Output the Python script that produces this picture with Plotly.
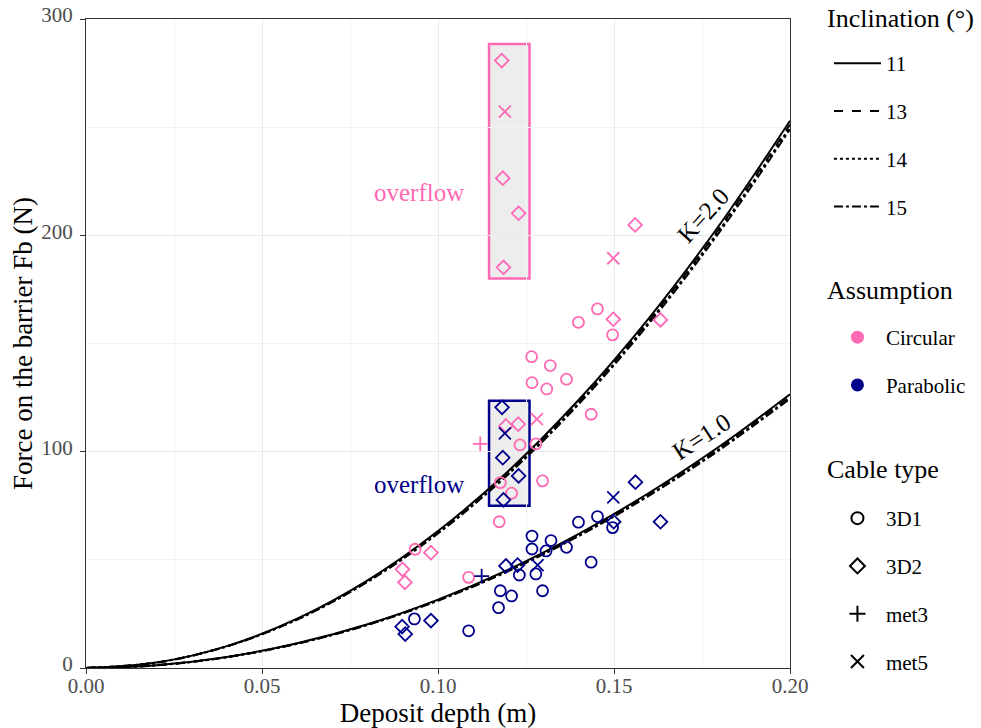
import plotly.graph_objects as go

# ---- theoretical force curves F(h) for K = 2.0 and K = 1.0 (one per inclination) ----
depth_grid = [0.00, 0.02, 0.04, 0.06, 0.08, 0.10, 0.12, 0.14, 0.16, 0.18, 0.20]
inclinations = ["11", "13", "14", "15"]
dash_styles = ["solid", "dash", "dot", "dashdot"]

k2_11 = [0, 2.5, 10.1, 22.8, 40.5, 63.3, 91.1, 124.0, 161.9, 204.9, 253.0]
k2_13 = [0, 2.5, 10.0, 22.6, 40.2, 62.8, 90.4, 123.1, 160.7, 203.4, 251.2]
k2_14 = [0, 2.5, 10.0, 22.5, 40.0, 62.5, 90.0, 122.5, 160.1, 202.6, 250.1]
k2_15 = [0, 2.5, 10.0, 22.4, 39.8, 62.2, 89.6, 122.0, 159.3, 201.6, 249.0]

k1_11 = [0, 1.3, 5.1, 11.4, 20.2, 31.6, 45.5, 62.0, 81.0, 102.5, 126.5]
k1_13 = [0, 1.3, 5.0, 11.3, 20.1, 31.4, 45.2, 61.5, 80.4, 101.7, 125.6]
k1_14 = [0, 1.3, 5.0, 11.3, 20.0, 31.3, 45.0, 61.3, 80.0, 101.3, 125.0]
k1_15 = [0, 1.2, 5.0, 11.2, 19.9, 31.1, 44.8, 61.0, 79.7, 100.8, 124.5]

k2_curves = [k2_11, k2_13, k2_14, k2_15]
k1_curves = [k1_11, k1_13, k1_14, k1_15]

# ---- measured barrier forces: Circular assumption ----
circ_3d1_x = [0.1399, 0.1453, 0.1496, 0.1266, 0.1319, 0.1267, 0.1309, 0.1365, 0.1435,
              0.1233, 0.1278, 0.1177, 0.1209, 0.1297, 0.1174, 0.0935, 0.1087]
circ_3d1_y = [159.8, 166.0, 154.0, 143.9, 139.8, 131.9, 129.0, 133.5, 117.3,
              103.1, 103.6, 85.7, 80.8, 86.5, 67.6, 54.9, 41.9]
circ_3d2_x = [0.1181, 0.1184, 0.1229, 0.1186, 0.1560, 0.1498, 0.1632, 0.1193, 0.1228,
              0.0980, 0.0899, 0.0906]
circ_3d2_y = [280.8, 226.4, 210.2, 185.2, 204.8, 161.2, 160.9, 111.9, 112.7,
              53.3, 45.6, 39.6]
circ_met3_x = [0.1120]
circ_met3_y = [103.6]
circ_met5_x = [0.1190, 0.1498, 0.1281]
circ_met5_y = [257.2, 189.4, 115.0]

# ---- measured barrier forces: Parabolic assumption ----
para_3d1_x = [0.1399, 0.1453, 0.1496, 0.1267, 0.1321, 0.1267, 0.1307, 0.1365, 0.1435,
              0.1231, 0.1278, 0.1177, 0.1209, 0.1297, 0.1172, 0.0933, 0.1087]
para_3d1_y = [67.4, 70.0, 64.9, 61.0, 58.9, 55.0, 54.1, 55.8, 48.9,
              43.0, 43.5, 35.7, 33.3, 35.7, 27.9, 22.7, 17.2]
para_3d2_x = [0.1182, 0.1184, 0.1229, 0.1186, 0.1561, 0.1499, 0.1632, 0.1193, 0.1226,
              0.0980, 0.0898, 0.0907]
para_3d2_y = [120.5, 97.2, 88.8, 77.7, 85.9, 67.6, 67.6, 47.2, 47.6,
              21.9, 19.1, 15.7]
para_met3_x = [0.1124]
para_met3_y = [42.5]
para_met5_x = [0.1190, 0.1498, 0.1283]
para_met5_y = [108.5, 78.9, 47.6]

# ---- overflow boxes (depth range, force range) ----
overflow_circ = [0.1145, 0.1260, 180.0, 288.5]
overflow_para = [0.1145, 0.1260, 75.0, 123.5]

assumptions = ["Circular", "Parabolic"]
assumption_colors = ["#FF69B4", "#00008B"]
cable_types = ["3D1", "3D2", "met3", "met5"]
cable_symbols = ["circle-open", "diamond-open", "cross-thin-open", "x-thin-open"]
cable_sizes = [11, 10.5, 10.5, 12]

FONT = "Liberation Serif, Times New Roman, serif"
INK = "#000000"
TICK_GREY = "#4D4D4D"
AXIS_GREY = "#333333"

fig = go.Figure()

# theory curves (K=2.0 carries the inclination legend entries)
for name, dash, c2, c1 in zip(inclinations, dash_styles, k2_curves, k1_curves):
    fig.add_trace(go.Scatter(
        x=depth_grid, y=c2, mode="lines", name=name,
        line=dict(color=INK, width=2, dash=dash, shape="spline"),
        legend="legend", legendgroup="inc" + name, hoverinfo="skip"))
    fig.add_trace(go.Scatter(
        x=depth_grid, y=c1, mode="lines", name=name, showlegend=False,
        line=dict(color=INK, width=2, dash=dash, shape="spline"),
        legendgroup="inc" + name, hoverinfo="skip"))

# measured points
series = [
    (0, 0, circ_3d1_x, circ_3d1_y), (0, 1, circ_3d2_x, circ_3d2_y),
    (0, 2, circ_met3_x, circ_met3_y), (0, 3, circ_met5_x, circ_met5_y),
    (1, 0, para_3d1_x, para_3d1_y), (1, 1, para_3d2_x, para_3d2_y),
    (1, 2, para_met3_x, para_met3_y), (1, 3, para_met5_x, para_met5_y),
]
for ai, ci, xs, ys in series:
    fig.add_trace(go.Scatter(
        x=xs, y=ys, mode="markers", showlegend=False,
        name=f"{assumptions[ai]} – {cable_types[ci]}",
        marker=dict(symbol=cable_symbols[ci], size=cable_sizes[ci],
                    color=assumption_colors[ai],
                    line=dict(width=1.8, color=assumption_colors[ai]))))

# legend-only entries: assumption colours
for name, col in zip(assumptions, assumption_colors):
    fig.add_trace(go.Scatter(
        x=[None], y=[None], mode="markers", name=name,
        marker=dict(symbol="circle", size=13, color=col),
        legend="legend2", legendgroup="as" + name))

# legend-only entries: cable symbols
for name, sym, sz in zip(cable_types, cable_symbols, cable_sizes):
    fig.add_trace(go.Scatter(
        x=[None], y=[None], mode="markers", name=name,
        marker=dict(symbol=sym, size=sz + 1, color=INK, line=dict(width=2, color=INK)),
        legend="legend3", legendgroup="cb" + name))

# overflow boxes
for box, col in [(overflow_circ, assumption_colors[0]), (overflow_para, assumption_colors[1])]:
    fig.add_shape(type="rect", xref="x", yref="y",
                  x0=box[0], x1=box[1], y0=box[2], y1=box[3],
                  line=dict(color=col, width=2.5),
                  fillcolor="rgba(0,0,0,0.07)", layer="below")

# text labels inside the panel
fig.add_annotation(x=0.0946, y=219.6, text="overflow", showarrow=False,
                   font=dict(family=FONT, size=25, color=assumption_colors[0]))
fig.add_annotation(x=0.0946, y=84.6, text="overflow", showarrow=False,
                   font=dict(family=FONT, size=25, color=assumption_colors[1]))
fig.add_annotation(x=0.1752, y=209.4, text="K=2.0", showarrow=False, textangle=-48,
                   font=dict(family=FONT, size=25, color=INK))
fig.add_annotation(x=0.1749, y=106.8, text="K=1.0", showarrow=False, textangle=-33,
                   font=dict(family=FONT, size=25, color=INK))

# legend headings
for title, ty in [("Inclination (°)", 1.0015), ("Assumption", 0.5809), ("Cable type", 0.3051)]:
    fig.add_annotation(xref="paper", yref="paper", x=1.050, y=ty, text=title,
                       showarrow=False, xanchor="left", yanchor="middle",
                       font=dict(family=FONT, size=26, color=INK))

legend_common = dict(
    xref="container", yref="container", xanchor="left", yanchor="top",
    font=dict(family=FONT, size=21, color=INK), bgcolor="rgba(0,0,0,0)",
    tracegroupgap=17.5, itemwidth=47)

fig.update_layout(
    width=981, height=728,
    margin=dict(l=86, r=191, t=19, b=60),
    paper_bgcolor="white", plot_bgcolor="white",
    font=dict(family=FONT, color=INK),
    legend=dict(x=0.845, y=1 - 43 / 728, **legend_common),
    legend2=dict(x=0.845, y=1 - 317 / 728, **legend_common),
    legend3=dict(x=0.845, y=1 - 498 / 728, **legend_common),
    xaxis=dict(
        range=[0, 0.2], tickvals=[0, 0.05, 0.10, 0.15, 0.20],
        ticktext=["0.00", "0.05", "0.10", "0.15", "0.20"],
        showgrid=True, gridcolor="#EBEBEB", gridwidth=1.2,
        minor=dict(tickvals=[0.025, 0.075, 0.125, 0.175], showgrid=True,
                   gridcolor="#F3F3F3", gridwidth=1, ticks=""),
        showline=True, linecolor=AXIS_GREY, linewidth=1.3, mirror=True,
        ticks="outside", ticklen=5, tickwidth=1.3, tickcolor=AXIS_GREY,
        ticklabelstandoff=-6,
        tickfont=dict(family=FONT, size=21, color=TICK_GREY),
        title=dict(text="Deposit depth (m)", standoff=7,
                   font=dict(family=FONT, size=27, color=INK)),
        zeroline=False, automargin=False),
    yaxis=dict(
        range=[0, 300], tickvals=[0, 100, 200, 300],
        showgrid=True, gridcolor="#EBEBEB", gridwidth=1.2,
        minor=dict(tickvals=[50, 150, 250], showgrid=True,
                   gridcolor="#F3F3F3", gridwidth=1, ticks=""),
        showline=True, linecolor=AXIS_GREY, linewidth=1.3, mirror=True,
        ticks="outside", ticklen=5, tickwidth=1.3, tickcolor=AXIS_GREY,
        ticklabelstandoff=3, ticklabelshift=-4,
        tickfont=dict(family=FONT, size=21, color=TICK_GREY),
        title=dict(text="Force on the barrier Fb (N)", standoff=0,
                   font=dict(family=FONT, size=27, color=INK)),
        zeroline=False, automargin=False),
)

fig.write_html("out.html")
